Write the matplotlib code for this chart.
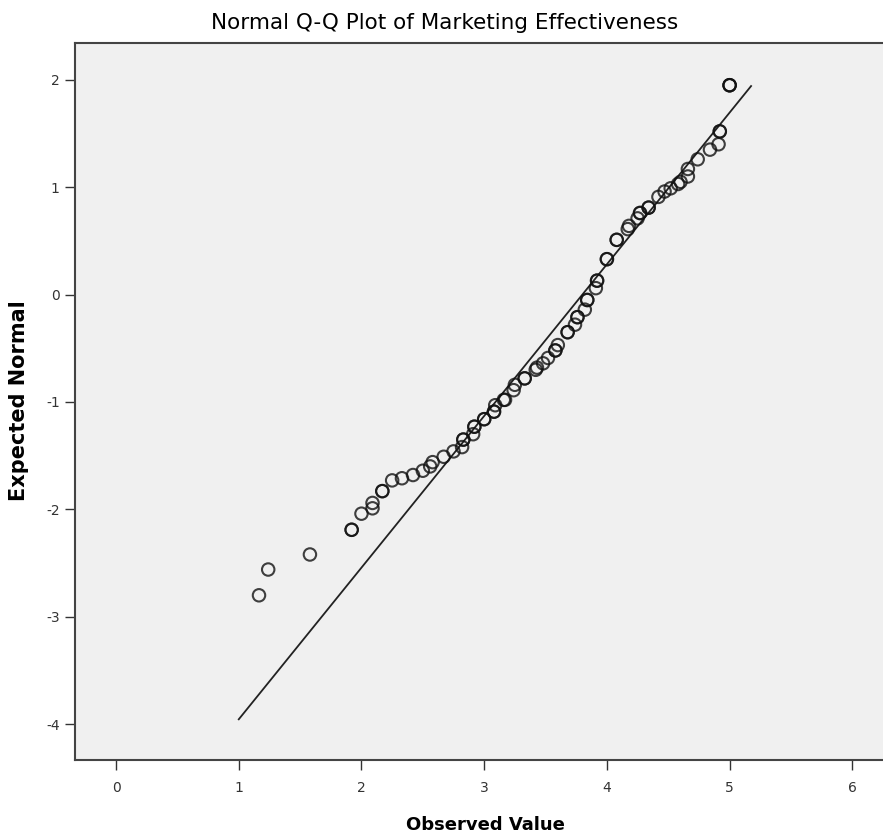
import matplotlib
matplotlib.use("Agg")
import matplotlib.pyplot as plt
import numpy as np
from matplotlib import font_manager

observed = [1.165, 1.24, 1.58, 1.92, 1.92, 2.0, 2.09, 2.09, 2.17, 2.17, 2.25, 2.33, 2.42, 2.50,
            2.56, 2.58, 2.67, 2.75, 2.82, 2.83, 2.83, 2.91, 2.92, 2.92, 3.0, 3.0, 3.08, 3.08, 3.09,
            3.16, 3.17, 3.24, 3.25, 3.33, 3.33, 3.42, 3.43, 3.48, 3.52, 3.58, 3.58, 3.60,
            3.68, 3.68, 3.74, 3.76, 3.76, 3.82, 3.84, 3.84, 3.91, 3.92, 3.92, 4.0, 4.0,
            4.08, 4.08, 4.17, 4.18, 4.25, 4.27, 4.27, 4.34, 4.34, 4.42, 4.47, 4.52, 4.58,
            4.60, 4.66, 4.66, 4.74, 4.84, 4.91, 4.92, 4.92, 5.0, 5.0, 5.0]
expected = [-2.80, -2.56, -2.42, -2.19, -2.19, -2.04, -1.99, -1.94, -1.83, -1.83, -1.73, -1.71,
            -1.68, -1.64, -1.60, -1.56, -1.51, -1.46, -1.42, -1.35, -1.35, -1.30, -1.23, -1.23,
            -1.16, -1.16, -1.09, -1.09, -1.03, -0.98, -0.98, -0.89, -0.84, -0.78, -0.78, -0.70,
            -0.68, -0.64, -0.59, -0.52, -0.52, -0.47, -0.35, -0.35, -0.28, -0.21, -0.21, -0.14,
            -0.05, -0.05, 0.06, 0.13, 0.13, 0.33, 0.33, 0.51, 0.51, 0.61, 0.64, 0.71, 0.76, 0.76,
            0.81, 0.81, 0.91, 0.96, 0.99, 1.03, 1.05, 1.10, 1.17, 1.26, 1.35, 1.40, 1.52, 1.52,
            1.95, 1.95, 1.95]

line_x = [1.0, 5.175]
line_mean = 3.80
line_sd = 0.708

xticks = [0, 1, 2, 3, 4, 5, 6]
yticks = [-4, -3, -2, -1, 0, 1, 2]

names = {f.name for f in font_manager.fontManager.ttflist}
if 'Liberation Sans Narrow' in names:
    narrow = ['Liberation Sans Narrow', 'DejaVu Sans']
elif 'DejaVu Sans Condensed' in names:
    narrow = ['DejaVu Sans Condensed', 'DejaVu Sans']
else:
    narrow = ['DejaVu Sans']

fig = plt.figure(figsize=(8.83, 8.39), dpi=100)
ax = fig.add_axes([0.085, 0.094, 0.915, 0.855])
ax.set_facecolor('#f0f0f0')

lx = np.array(line_x)
ly = (lx - line_mean) / line_sd
ax.plot(lx, ly, color='#222222', lw=1.3, zorder=2)
ax.scatter(observed, expected, s=80, facecolors='none', edgecolors='#111111',
           linewidths=1.5, alpha=0.8, zorder=3)

ax.set_xlim(-0.334, 6.25)
ax.set_ylim(-4.335, 2.345)
ax.set_xticks(xticks)
ax.set_yticks(yticks)
ax.set_xticklabels([str(t) for t in xticks], family=narrow, fontsize=10, color='#333333')
ax.set_yticklabels([str(t) for t in yticks], family=narrow, fontsize=10, color='#333333')
ax.tick_params(axis='x', direction='out', length=7, width=1, color='#333333', pad=8)
ax.tick_params(axis='y', direction='out', length=7, width=1, color='#333333', pad=4)
for s in ['left', 'bottom', 'top']:
    ax.spines[s].set_color('#444444')
    ax.spines[s].set_linewidth(1.5)
ax.spines['right'].set_visible(False)

fig.text(0.504, 0.972, 'Normal Q-Q Plot of Marketing Effectiveness', ha='center', va='center',
         family=narrow, fontsize=15.5, fontweight='normal')
fig.text(0.55, 0.017, 'Observed Value', ha='center', va='center', family=narrow,
         fontsize=13, fontweight='bold')
fig.text(0.022, 0.523, 'Expected Normal', ha='center', va='center', rotation=90,
         fontsize=15, fontweight='bold')

fig.savefig('out.png', dpi=100)
